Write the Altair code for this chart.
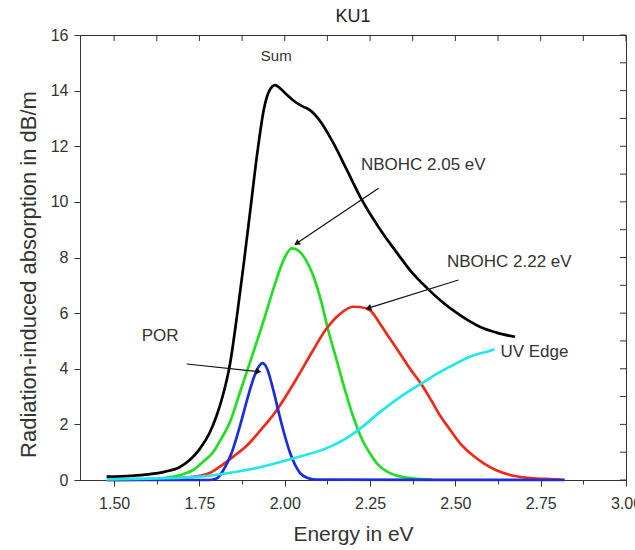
import math
import altair as alt
import pandas as pd

# ---------------- data ----------------
sum_x = [1.478, 1.55, 1.60, 1.65, 1.69, 1.72, 1.75, 1.78, 1.80, 1.82, 1.84, 1.86, 1.88,
         1.90, 1.92, 1.94, 1.955, 1.972, 1.985, 2.006, 2.03, 2.05, 2.074, 2.104,
         2.143, 2.182, 2.226, 2.28, 2.33, 2.37, 2.417, 2.46, 2.505, 2.54, 2.573, 2.62, 2.675]
sum_y = [0.12, 0.15, 0.2, 0.3, 0.45, 0.7, 1.1, 1.7, 2.3, 3.1, 4.2, 5.9, 7.8,
         9.8, 11.8, 13.4, 14.0, 14.2, 14.1, 13.85, 13.6, 13.45, 13.3, 12.9,
         12.1, 11.15, 10.07, 9.0, 8.15, 7.5, 6.9, 6.42, 6.0, 5.72, 5.5, 5.3, 5.15]

g_x = [1.48, 1.60, 1.65, 1.70, 1.73, 1.76, 1.79, 1.81, 1.84, 1.87, 1.90, 1.94, 1.97, 2.00,
       2.02, 2.04, 2.06, 2.085, 2.105, 2.125, 2.15, 2.175, 2.20, 2.225, 2.25, 2.27, 2.30,
       2.34, 2.38, 2.43]
g_y = [0.0, 0.02, 0.08, 0.2, 0.35, 0.65, 1.0, 1.4, 2.1, 3.2, 4.3, 5.8, 7.0, 8.0,
       8.33, 8.25, 7.95, 7.3, 6.5, 5.5, 4.4, 3.3, 2.3, 1.5, 0.95, 0.6, 0.3,
       0.12, 0.05, 0.02]

r_x = [1.48, 1.60, 1.70, 1.75, 1.78, 1.81, 1.85, 1.89, 1.93, 1.97, 2.00, 2.035, 2.08,
       2.12, 2.16, 2.20, 2.22, 2.25, 2.28, 2.31, 2.34, 2.37, 2.40, 2.43, 2.456, 2.485,
       2.514, 2.55, 2.583, 2.62, 2.66, 2.72, 2.80, 2.82]
r_y = [0.0, 0.01, 0.08, 0.15, 0.25, 0.48, 0.85, 1.25, 1.8, 2.4, 2.95, 3.65, 4.6,
       5.4, 5.95, 6.23, 6.22, 6.1, 5.6, 5.05, 4.5, 3.95, 3.45, 2.85, 2.3, 1.8,
       1.32, 0.9, 0.6, 0.35, 0.18, 0.07, 0.02, 0.0]

b_x = [1.48, 1.78, 1.80, 1.82, 1.845, 1.87, 1.89, 1.91, 1.925, 1.935, 1.95, 1.965, 1.985,
       2.00, 2.015, 2.03, 2.045, 2.065, 2.09, 2.82]
b_y = [0.0, 0.0, 0.05, 0.35, 1.0, 2.0, 2.9, 3.7, 4.1, 4.2, 3.95, 3.3, 2.3,
       1.6, 1.0, 0.55, 0.25, 0.08, 0.01, 0.0]

c_x = [1.478, 1.60, 1.70, 1.752, 1.85, 1.928, 2.026, 2.133, 2.18, 2.221, 2.28, 2.34, 2.402,
       2.45, 2.485, 2.544, 2.602, 2.615]
c_y = [0.02, 0.05, 0.08, 0.12, 0.28, 0.46, 0.78, 1.2, 1.5, 1.85, 2.45, 3.0, 3.48,
       3.85, 4.08, 4.44, 4.65, 4.7]

# annotations
sum_text = ["Sum"]
sum_lx = [1.975]
sum_ly = [15.25]
label_text = ["NBOHC 2.05 eV", "NBOHC 2.22 eV", "POR"]
label_x = [2.406, 2.658, 1.635]
label_y = [11.33, 7.84, 5.18]
uv_text = ["UV Edge"]
uv_x = [2.632]
uv_y = [4.6]

arrow_x = [2.275, 2.509, 1.713]
arrow_y = [10.49, 7.19, 4.17]
arrow_x2 = [2.035, 2.245, 1.923]
arrow_y2 = [8.51, 6.18, 3.90]

x_ticks = [1.5, 1.625, 1.75, 1.875, 2.0, 2.125, 2.25, 2.375, 2.5, 2.625, 2.75, 2.875, 3.0]
y_ticks = list(range(0, 17))

# ---------------- chart ----------------
W, H = 546, 445
XDOM = [1.4, 3.0]
YDOM = [0, 16]
FONT = "Liberation Sans"
TXT = "#333333"
AX = "#333333"
TICK_PX = 6

xscale = alt.Scale(domain=XDOM, nice=False, zero=False)
yscale = alt.Scale(domain=YDOM, nice=False)
px_per_x = W / (XDOM[1] - XDOM[0])
px_per_y = H / (YDOM[1] - YDOM[0])

major_x = "round(datum.value*8) % 2 == 0"
major_y = "datum.value % 2 == 0"

x_axis = alt.Axis(
    orient="bottom",
    title="Energy in eV", values=x_ticks, format=".2f",
    labelExpr=f"{major_x} ? datum.label : ''",
    tickSize=TICK_PX,
    tickDash={"condition": {"test": major_x, "value": [12]}, "value": [4, 12]},
    labelFont=FONT, labelFontSize=16, labelColor=TXT, labelPadding=9,
    labelFlush=False, labelOverlap=False,
    titleFont=FONT, titleFontSize=21, titleFontWeight="normal", titleColor=TXT,
    titlePadding=12, grid=False, domainColor=AX, tickColor=AX,
)
y_axis = alt.Axis(
    orient="left",
    title="Radiation-induced absorption in dB/m", values=y_ticks,
    labelExpr=f"{major_y} ? datum.label : ''",
    tickSize=TICK_PX,
    tickDash={"condition": {"test": major_y, "value": [12]}, "value": [4, 12]},
    labelFont=FONT, labelFontSize=16, labelColor=TXT, labelPadding=6,
    labelOverlap=False,
    titleFont=FONT, titleFontSize=22, titleFontWeight="normal", titleColor=TXT,
    titlePadding=10, titleY=239, grid=False, domainColor=AX, tickColor=AX,
)


def X(field):
    return alt.X(field, scale=xscale)


def Y(field):
    return alt.Y(field, scale=yscale)


def curve(xs, ys, color, with_axes=False):
    df = pd.DataFrame({"x": xs, "y": ys})
    if with_axes:
        enc = dict(x=alt.X("x:Q", scale=xscale, axis=x_axis), y=alt.Y("y:Q", scale=yscale, axis=y_axis))
    else:
        enc = dict(x=X("x:Q"), y=Y("y:Q"))
    return alt.Chart(df).mark_line(color=color, strokeWidth=2.7, interpolate="monotone").encode(**enc)


black = curve(sum_x, sum_y, "#000000", with_axes=True)
green = curve(g_x, g_y, "#22dd22")
red = curve(r_x, r_y, "#ee2a1a")
blue = curve(b_x, b_y, "#1a2ee0")
cyan = curve(c_x, c_y, "#22e6ee")

# mirrored inward ticks on the top and right frame edges (rules built from the tick lists)
top_df = pd.DataFrame({"x": x_ticks, "y": [YDOM[1]] * len(x_ticks),
                       "y2": [YDOM[1] - TICK_PX / px_per_y] * len(x_ticks)})
top_ticks = alt.Chart(top_df).mark_rule(color=AX, strokeWidth=1).encode(
    x=X("x:Q"), y=Y("y:Q"), y2="y2:Q",
)
right_df = pd.DataFrame({"y": y_ticks, "x": [XDOM[1]] * len(y_ticks),
                         "x2": [XDOM[1] - TICK_PX / px_per_x] * len(y_ticks)})
right_ticks = alt.Chart(right_df).mark_rule(color=AX, strokeWidth=1).encode(
    y=Y("y:Q"), x=X("x:Q"), x2="x2:Q",
)


def texts(t, xs, ys, size, align):
    df = pd.DataFrame({"t": t, "x": xs, "y": ys})
    return alt.Chart(df).mark_text(
        font=FONT, fontSize=size, color=TXT, align=align, baseline="middle"
    ).encode(x=X("x:Q"), y=Y("y:Q"), text="t:N")


sum_lbl = texts(sum_text, sum_lx, sum_ly, 15, "center")
labels = texts(label_text, label_x, label_y, 17, "center")
uv = texts(uv_text, uv_x, uv_y, 17, "left")

angles = []
for xa, ya, xb, yb in zip(arrow_x, arrow_y, arrow_x2, arrow_y2):
    dx = (xb - xa) * px_per_x
    dy = -(yb - ya) * px_per_y
    angles.append(math.degrees(math.atan2(dx, -dy)) % 360)

arr_df = pd.DataFrame({"x": arrow_x, "y": arrow_y, "x2": arrow_x2, "y2": arrow_y2, "a": angles})
shafts = alt.Chart(arr_df).mark_rule(color="#111", strokeWidth=1.2).encode(
    x=X("x:Q"), y=Y("y:Q"), x2="x2:Q", y2="y2:Q",
)
head_df = pd.DataFrame({"x": arrow_x2, "y": arrow_y2, "a": angles})
heads = alt.Chart(head_df).mark_point(shape="triangle-up", filled=True, size=45, color="#111", opacity=1).encode(
    x=X("x:Q"), y=Y("y:Q"), angle=alt.Angle("a:Q", scale=None),
)

chart = alt.layer(
    black, green, red, blue, cyan, sum_lbl, labels, uv, shafts, heads, top_ticks, right_ticks
).properties(
    width=W, height=H,
    title=alt.TitleParams("KU1", font=FONT, fontSize=18, fontWeight="normal", color="#222",
                          offset=4, dy=3),
    autosize=alt.AutoSizeParams(type="none"),
    padding={"left": 80, "top": 35, "right": 9, "bottom": 70},
    background="white",
).configure_view(stroke=AX, strokeWidth=1)

chart.save("out.html", embed_options={"renderer": "svg", "actions": False})
